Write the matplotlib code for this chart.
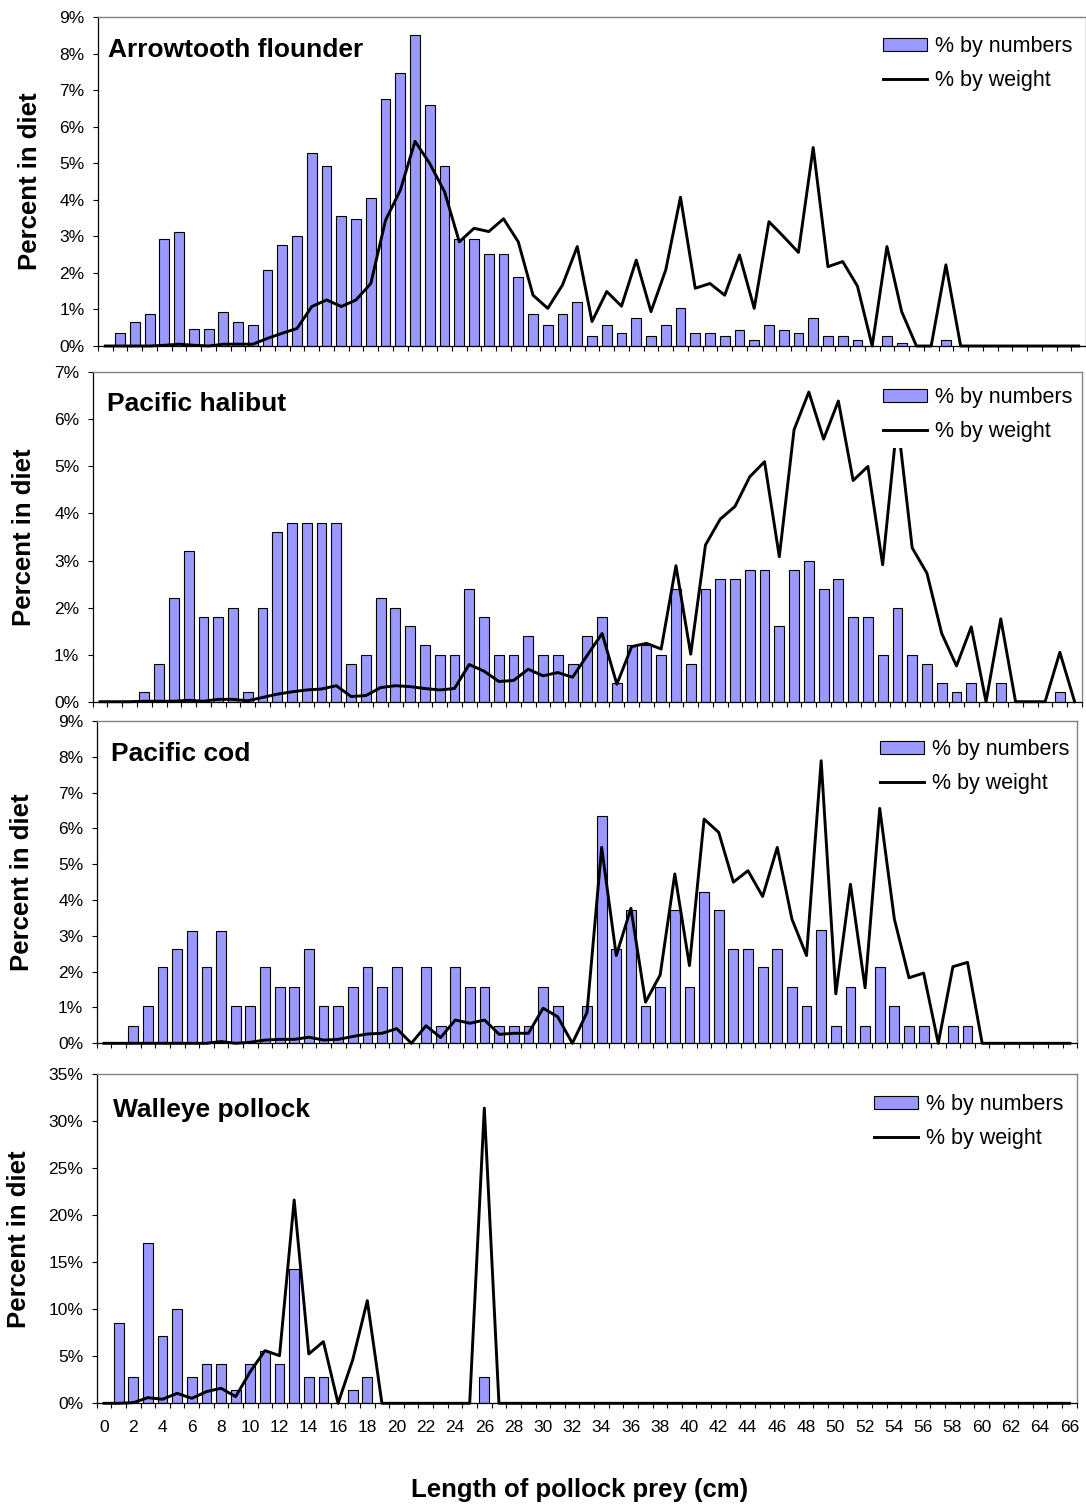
import matplotlib.pyplot as plt

plt.rcParams['font.family'] = ['Liberation Sans', 'DejaVu Sans']

# prey length classes (cm)
lengths = list(range(67))

arrowtooth_num = [0, 0.36, 0.67, 0.87, 2.93, 3.12, 0.46, 0.46, 0.94, 0.67,
                  0.58, 2.08, 2.75, 3.02, 5.28, 4.93, 3.56, 3.48, 4.05, 6.77,
                  7.46, 8.50, 6.59, 4.93, 2.93, 2.93, 2.52, 2.52, 1.90, 0.87,
                  0.58, 0.87, 1.21, 0.26, 0.58, 0.36, 0.76, 0.26, 0.58, 1.03,
                  0.36, 0.36, 0.26, 0.44, 0.16, 0.58, 0.44, 0.36, 0.76, 0.26,
                  0.26, 0.16, 0, 0.26, 0.09, 0, 0, 0.16, 0, 0,
                  0, 0, 0, 0, 0, 0, 0]
arrowtooth_wt = [0, 0, 0, 0, 0.02, 0.05, 0.02, 0, 0.05, 0.05,
                 0.05, 0.21, 0.35, 0.48, 1.08, 1.26, 1.08, 1.26, 1.71, 3.44,
                 4.26, 5.60, 4.99, 4.22, 2.85, 3.22, 3.13, 3.48, 2.85, 1.39,
                 1.03, 1.67, 2.72, 0.67, 1.49, 1.09, 2.35, 0.94, 2.08, 4.07,
                 1.58, 1.71, 1.39, 2.49, 1.03, 3.40, 2.99, 2.56, 5.43, 2.17,
                 2.31, 1.64, 0, 2.72, 0.94, 0, 0, 2.22, 0, 0,
                 0, 0, 0, 0, 0, 0, 0]

halibut_num = [0, 0, 0, 0.2, 0.8, 2.2, 3.2, 1.8, 1.8, 2.0,
               0.2, 2.0, 3.6, 3.8, 3.8, 3.8, 3.8, 0.8, 1.0, 2.2,
               2.0, 1.6, 1.2, 1.0, 1.0, 2.4, 1.8, 1.0, 1.0, 1.4,
               1.0, 1.0, 0.8, 1.4, 1.8, 0.4, 1.2, 1.2, 1.0, 2.4,
               0.8, 2.4, 2.6, 2.6, 2.8, 2.8, 1.6, 2.8, 3.0, 2.4,
               2.6, 1.8, 1.8, 1.0, 2.0, 1.0, 0.8, 0.4, 0.2, 0.4,
               0, 0.4, 0, 0, 0, 0.2, 0]
halibut_wt = [0, 0, 0, 0.01, 0.01, 0.01, 0.03, 0.01, 0.05, 0.05,
              0.02, 0.09, 0.16, 0.21, 0.25, 0.27, 0.34, 0.11, 0.13, 0.30,
              0.34, 0.32, 0.28, 0.25, 0.28, 0.79, 0.65, 0.43, 0.45, 0.69,
              0.55, 0.62, 0.52, 0.99, 1.45, 0.37, 1.17, 1.24, 1.12, 2.89,
              1.01, 3.33, 3.88, 4.15, 4.78, 5.10, 3.08, 5.78, 6.58, 5.58,
              6.39, 4.70, 5.00, 2.91, 6.00, 3.27, 2.73, 1.45, 0.76, 1.59,
              0, 1.76, 0, 0, 0, 1.05, 0]

cod_num = [0, 0, 0.49, 1.05, 2.12, 2.63, 3.14, 2.12, 3.14, 1.05,
           1.05, 2.12, 1.56, 1.56, 2.63, 1.05, 1.05, 1.56, 2.12, 1.56,
           2.12, 0, 2.12, 0.49, 2.12, 1.56, 1.56, 0.49, 0.49, 0.49,
           1.56, 1.05, 0, 1.05, 6.35, 2.63, 3.71, 1.05, 1.56, 3.71,
           1.56, 4.22, 3.71, 2.63, 2.63, 2.12, 2.63, 1.56, 1.05, 3.15,
           0.49, 1.56, 0.49, 2.12, 1.05, 0.49, 0.49, 0, 0.49, 0.49,
           0, 0, 0, 0, 0, 0, 0]
cod_wt = [0, 0, 0, 0, 0, 0, 0, 0, 0.05, 0,
          0.03, 0.09, 0.11, 0.11, 0.17, 0.09, 0.11, 0.19, 0.26, 0.28,
          0.41, 0, 0.49, 0.16, 0.65, 0.56, 0.65, 0.25, 0.28, 0.28,
          0.98, 0.74, 0, 0.86, 5.47, 2.45, 3.77, 1.15, 1.91, 4.73,
          2.17, 6.26, 5.89, 4.50, 4.82, 4.10, 5.47, 3.47, 2.45, 7.89,
          1.38, 4.44, 1.55, 6.56, 3.47, 1.83, 1.96, 0, 2.14, 2.26,
          0, 0, 0, 0, 0, 0, 0]

pollock_num = [0, 8.58, 2.77, 17.02, 7.16, 10.0, 2.77, 4.18, 4.18, 1.42,
               4.18, 5.60, 4.18, 14.26, 2.77, 2.77, 0, 1.42, 2.77, 0,
               0, 0, 0, 0, 0, 0, 2.77, 0, 0, 0,
               0, 0, 0, 0, 0, 0, 0, 0, 0, 0,
               0, 0, 0, 0, 0, 0, 0, 0, 0, 0,
               0, 0, 0, 0, 0, 0, 0, 0, 0, 0,
               0, 0, 0, 0, 0, 0, 0]
pollock_wt = [0, 0, 0.07, 0.60, 0.43, 1.06, 0.53, 1.24, 1.60, 0.71,
              3.37, 5.60, 5.07, 21.63, 5.25, 6.56, 0, 4.61, 10.92, 0,
              0, 0, 0, 0, 0, 0, 31.4, 0, 0, 0,
              0, 0, 0, 0, 0, 0, 0, 0, 0, 0,
              0, 0, 0, 0, 0, 0, 0, 0, 0, 0,
              0, 0, 0, 0, 0, 0, 0, 0, 0, 0,
              0, 0, 0, 0, 0, 0, 0]

W, H = 1086, 1504
fig = plt.figure(figsize=(W / 100, H / 100), dpi=100)


def fx(x):
    return x / W


def fy(y):
    return 1 - y / H


def panel(box, title, num, wt, ymax, ystep, title_pos, ylab_x, leg_pos, bottom=False):
    left, top, right, bot = box
    ax = fig.add_axes([fx(left), fy(bot), (right - left) / W, (bot - top) / H])
    bars = ax.bar(lengths, num, width=0.667, color='#9999FF',
                  edgecolor='black', linewidth=0.8, zorder=2)
    line, = ax.plot(lengths, wt, color='black', lw=2.1, zorder=3, clip_on=False)
    ax.set_xlim(-0.5, 66.5)
    ax.set_ylim(0, ymax)
    yt = list(range(0, ymax + 1, ystep))
    ax.set_yticks(yt)
    ax.set_yticklabels(['%d%%' % v for v in yt])
    ax.set_xticks([k - 0.5 for k in lengths] + [66.5])
    ax.set_xticklabels([])
    if bottom:
        ax.set_xticks(lengths[::2], minor=True)
        ax.set_xticklabels([str(k) for k in lengths[::2]], minor=True)
        ax.tick_params(axis='x', which='minor', length=0, pad=12, labelsize=12.5)
    else:
        ax.tick_params(axis='x', which='minor', length=0)
    ax.tick_params(axis='both', which='major', direction='out', length=3.6,
                   width=0.8, labelsize=12.5)
    ax.tick_params(axis='y', pad=6)
    for s in ['top', 'right']:
        ax.spines[s].set_color('#808080')
        ax.spines[s].set_linewidth(1)
    for s in ['left', 'bottom']:
        ax.spines[s].set_color('black')
        ax.spines[s].set_linewidth(0.9)

    fig.text(fx(title_pos[0]), fy(title_pos[1]), title, ha='left', va='baseline',
             fontsize=19, fontweight='bold')
    fig.text(fx(ylab_x), fy((top + bot) / 2), 'Percent in diet', rotation=90,
             ha='center', va='center', fontsize=18.5, fontweight='bold')

    leg = ax.legend([bars, line], ['% by numbers', '% by weight'], loc='upper left',
                    bbox_to_anchor=(fx(leg_pos[0] - 6.25), fy(leg_pos[1] - 14.5)),
                    bbox_transform=fig.transFigure, fontsize=15.5, handlelength=2.05,
                    handleheight=0.55, handletextpad=0.35, labelspacing=0.59,
                    borderpad=0.3, borderaxespad=0, fancybox=False, frameon=True)
    leg.get_frame().set_edgecolor('none')
    leg.get_frame().set_facecolor('white')
    leg.get_frame().set_alpha(1)
    return ax


panel((98, 17, 1086, 346), 'Arrowtooth flounder', arrowtooth_num, arrowtooth_wt,
      9, 1, (108, 57), 30, (883, 44))
panel((92.7, 372.3, 1082, 701.7), 'Pacific halibut', halibut_num, halibut_wt,
      7, 1, (107, 411), 24, (883, 395))
panel((96.7, 721, 1077.3, 1043.3), 'Pacific cod', cod_num, cod_wt,
      9, 1, (111, 761), 22, (880, 747))
panel((96.7, 1074.3, 1076.7, 1403.3), 'Walleye pollock', pollock_num, pollock_wt,
      35, 5, (113, 1117), 19, (874, 1102.5), bottom=True)

fig.text(fx(580), fy(1490), 'Length of pollock prey (cm)', ha='center', va='center',
         fontsize=18.5, fontweight='bold')

fig.savefig('out.png', dpi=100)
